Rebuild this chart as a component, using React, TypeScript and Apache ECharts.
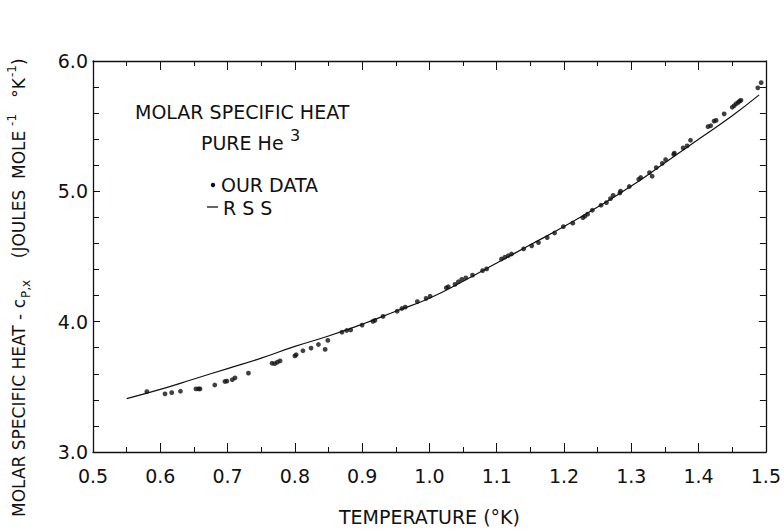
import React, { useEffect, useRef } from "react";
import * as echarts from "echarts";

// Measured specific heat points ("OUR DATA")
const temperature = [
  0.580, 0.607, 0.617, 0.630, 0.653, 0.657, 0.659, 0.681, 0.696, 0.699,
  0.707, 0.711, 0.731, 0.766, 0.770, 0.774, 0.778, 0.800, 0.802, 0.812,
  0.824, 0.835, 0.845, 0.849, 0.870, 0.877, 0.883, 0.900, 0.916, 0.919,
  0.931, 0.952, 0.959, 0.964, 0.982, 0.995, 1.001, 1.025, 1.028, 1.038,
  1.043, 1.048, 1.054, 1.064, 1.079, 1.085, 1.107, 1.112, 1.117, 1.122,
  1.140, 1.152, 1.162, 1.175, 1.186, 1.199, 1.213, 1.228, 1.231, 1.235,
  1.242, 1.255, 1.263, 1.269, 1.273, 1.283, 1.284, 1.297, 1.311, 1.314,
  1.327, 1.331, 1.337, 1.346, 1.351, 1.363, 1.364, 1.377, 1.383, 1.388,
  1.414, 1.418, 1.423, 1.426, 1.438, 1.450, 1.453, 1.456, 1.459, 1.461,
  1.463, 1.488, 1.493,
];
const heat = [
  3.463, 3.446, 3.455, 3.466, 3.484, 3.484, 3.484, 3.514, 3.541, 3.544,
  3.554, 3.569, 3.605, 3.681, 3.678, 3.689, 3.699, 3.737, 3.746, 3.777,
  3.797, 3.825, 3.787, 3.856, 3.919, 3.932, 3.936, 3.974, 4.002, 4.010,
  4.040, 4.080, 4.101, 4.111, 4.154, 4.179, 4.195, 4.260, 4.268, 4.286,
  4.306, 4.324, 4.336, 4.357, 4.392, 4.405, 4.481, 4.494, 4.506, 4.519,
  4.559, 4.582, 4.607, 4.645, 4.680, 4.729, 4.756, 4.797, 4.809, 4.825,
  4.855, 4.893, 4.913, 4.944, 4.969, 4.987, 5.002, 5.037, 5.093, 5.106,
  5.144, 5.116, 5.182, 5.215, 5.243, 5.283, 5.293, 5.333, 5.349, 5.392,
  5.496, 5.503, 5.539, 5.544, 5.594, 5.645, 5.658, 5.673, 5.683, 5.693,
  5.698, 5.794, 5.834,
];

// RSS curve
const rssTemperature = [
  0.55, 0.60, 0.65, 0.70, 0.75, 0.80, 0.85, 0.90, 0.95, 1.00,
  1.05, 1.10, 1.15, 1.20, 1.25, 1.30, 1.35, 1.40, 1.45, 1.49,
];
const rssHeat = [
  3.41, 3.48, 3.56, 3.64, 3.72, 3.81, 3.89, 3.98, 4.08, 4.18,
  4.31, 4.45, 4.59, 4.73, 4.88, 5.04, 5.22, 5.40, 5.58, 5.74,
];

const FONT = "DejaVu Sans";
const INK = "#111";

export default function App() {
  const ref = useRef<HTMLDivElement>(null);
  useEffect(() => {
    document.body.style.margin = "0";
    const chart = echarts.init(ref.current!, null, { renderer: "svg" });
    const line = { show: true, onZero: false, lineStyle: { color: INK, width: 1.3 } };
    const xCommon = {
      type: "value",
      min: 0.5,
      max: 1.5,
      interval: 0.1,
      axisLine: line,
      axisTick: { show: true, inside: true, length: 9, lineStyle: { color: INK, width: 1 } },
      minorTick: { show: true, splitNumber: 2, length: 5, lineStyle: { color: INK, width: 1 } },
      splitLine: { show: false },
      minorSplitLine: { show: false },
    };
    const yCommon = {
      type: "value",
      min: 3,
      max: 6,
      interval: 1,
      axisLine: line,
      axisTick: { show: true, inside: true, length: 7, lineStyle: { color: INK, width: 1 } },
      minorTick: { show: true, splitNumber: 5, length: 6, lineStyle: { color: INK, width: 1 } },
      splitLine: { show: false },
      minorSplitLine: { show: false },
    };
    const ann = { fontFamily: FONT, fontSize: 19, fill: INK, verticalAlign: "middle" };
    chart.setOption({
      animation: false,
      backgroundColor: "#fff",
      grid: { left: 93, right: 17, top: 61, bottom: 76, containLabel: false },
      xAxis: [
        {
          ...xCommon,
          position: "bottom",
          axisLabel: {
            show: true,
            margin: 14,
            fontFamily: FONT,
            fontSize: 19,
            color: INK,
            formatter: (v: number) => v.toFixed(1),
          },
          name: "TEMPERATURE (°K)",
          nameLocation: "middle",
          nameGap: 55,
          nameTextStyle: { fontFamily: FONT, fontSize: 19, color: INK },
        },
        { ...xCommon, position: "top", axisLabel: { show: false } },
      ],
      yAxis: [
        {
          ...yCommon,
          position: "left",
          axisLabel: {
            show: true,
            margin: 5,
            fontFamily: FONT,
            fontSize: 19,
            color: INK,
            formatter: (v: number) => v.toFixed(1),
          },
        },
        { ...yCommon, position: "right", axisLabel: { show: false } },
      ],
      series: [
        {
          name: "RSS",
          type: "line",
          smooth: true,
          showSymbol: false,
          data: rssTemperature.map((t, i) => [t, rssHeat[i]]),
          lineStyle: { color: INK, width: 1.2 },
          z: 2,
        },
        {
          name: "OUR DATA",
          type: "scatter",
          symbol: "circle",
          symbolSize: 4.8,
          data: temperature.map((t, i) => [t, heat[i]]),
          itemStyle: { color: INK },
          z: 3,
        },
      ],
      graphic: [
        {
          type: "text",
          x: 19,
          y: 517,
          rotation: Math.PI / 2,
          style: {
            text: "{a|MOLAR SPECIFIC HEAT - c}{sub|P,x}{a|    (JOULES  MOLE}{sup| -1}{a|   °K}{sup|-1}{a|)}",
            align: "left",
            verticalAlign: "middle",
            fill: INK,
            rich: {
              a: { fontFamily: FONT, fontSize: 17, fill: INK, lineHeight: 26, verticalAlign: "middle" },
              sub: { fontFamily: FONT, fontSize: 12, fill: INK, lineHeight: 26, verticalAlign: "bottom", padding: [8, 0, 0, 1] },
              sup: { fontFamily: FONT, fontSize: 12, fill: INK, lineHeight: 26, verticalAlign: "top", padding: [0, 0, 10, 1] },
            },
          },
        },
        { type: "text", x: 135, y: 112, style: { ...ann, text: "MOLAR SPECIFIC HEAT" } },
        { type: "text", x: 201, y: 143, style: { ...ann, text: "PURE He" } },
        { type: "text", x: 290, y: 135, style: { ...ann, fontSize: 16, text: "3" } },
        { type: "circle", shape: { cx: 213, cy: 185, r: 2.2 }, style: { fill: INK } },
        { type: "text", x: 221, y: 185, style: { ...ann, text: "OUR DATA" } },
        {
          type: "line",
          shape: { x1: 207, y1: 207, x2: 218, y2: 207 },
          style: { stroke: INK, lineWidth: 1.3 },
        },
        { type: "text", x: 223, y: 208, style: { ...ann, text: "R S S" } },
      ],
    });
    return () => chart.dispose();
  }, []);
  return <div ref={ref} style={{ width: 784, height: 531 }} />;
}
